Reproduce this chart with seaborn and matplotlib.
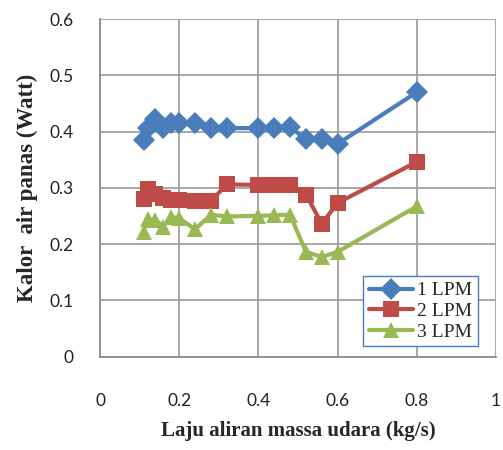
import matplotlib
matplotlib.use("Agg")
import matplotlib.pyplot as plt
import seaborn as sns
import pandas as pd

x_vals = [0.11, 0.12, 0.14, 0.16, 0.18, 0.20, 0.24, 0.28, 0.32, 0.40, 0.44, 0.48, 0.52, 0.56, 0.60, 0.80]
lpm1 = [0.385, 0.407, 0.423, 0.407, 0.416, 0.415, 0.416, 0.406, 0.406, 0.406, 0.407, 0.408, 0.386, 0.386, 0.378, 0.470]
lpm2 = [0.280, 0.297, 0.289, 0.281, 0.279, 0.278, 0.277, 0.276, 0.306, 0.305, 0.305, 0.305, 0.288, 0.236, 0.273, 0.346]
lpm3 = [0.222, 0.244, 0.243, 0.231, 0.248, 0.246, 0.226, 0.252, 0.249, 0.250, 0.251, 0.252, 0.186, 0.177, 0.186, 0.267]
series_names = ["1 LPM", "2 LPM", "3 LPM"]
x_ticks = [0, 0.2, 0.4, 0.6, 0.8, 1]
x_tick_labels = ["0", "0.2", "0.4", "0.6", "0.8", "1"]
y_ticks = [0, 0.1, 0.2, 0.3, 0.4, 0.5, 0.6]
y_tick_labels = ["0", "0.1", "0.2", "0.3", "0.4", "0.5", "0.6"]

df = pd.DataFrame({
    "x": x_vals * 3,
    "y": lpm1 + lpm2 + lpm3,
    "series": [series_names[0]] * len(x_vals) + [series_names[1]] * len(x_vals) + [series_names[2]] * len(x_vals),
})

sns.set_style("white")
fig = plt.figure(figsize=(5.03, 4.5), dpi=100)
ax = fig.add_axes([100 / 503, 1 - 356.5 / 450, 396 / 503, 337.5 / 450])

palette = {"1 LPM": "#4A7EBB", "2 LPM": "#BE4B48", "3 LPM": "#98B954"}
markers = {"1 LPM": "D", "2 LPM": "s", "3 LPM": "^"}

sns.lineplot(data=df, x="x", y="y", hue="series", style="series", palette=palette,
             markers=markers, dashes=False, sort=False, estimator=None,
             linewidth=3, markersize=11, markeredgewidth=0, ax=ax, legend=True)

ax.set_xlim(0, 1)
ax.set_ylim(0, 0.6)
ax.set_xticks(x_ticks)
ax.set_xticklabels(x_tick_labels)
ax.set_yticks(y_ticks)
ax.set_yticklabels(y_tick_labels)
ax.grid(True, color="#a0a0a0", linewidth=1.3)
ax.set_axisbelow(True)
for s in ["top", "right"]:
    ax.spines[s].set_visible(False)
for s in ["left", "bottom"]:
    ax.spines[s].set_color("#8c8c8c")
    ax.spines[s].set_linewidth(1.3)

ax.tick_params(axis="both", which="both", direction="out", length=7, width=1.3, color="#8c8c8c",
               labelsize=12.5, labelcolor="#222222")
ax.tick_params(axis="x", pad=19)
ax.tick_params(axis="y", pad=12)
for lab in ax.get_xticklabels() + ax.get_yticklabels():
    lab.set_fontfamily("Lato")

ax.set_xlabel("Laju aliran massa udara (kg/s)", fontfamily="Liberation Serif", fontweight="bold",
              fontsize=15, labelpad=9)
ax.set_ylabel("Kalor  air panas (Watt)", fontfamily="Liberation Serif", fontweight="bold",
              fontsize=16.5, labelpad=8)

leg = ax.legend(loc="lower right", bbox_to_anchor=(0.955, 0.03), frameon=True, fancybox=False,
                prop={"family": "Liberation Serif", "size": 14}, handlelength=2.3,
                borderpad=0.3, labelspacing=0.15, handletextpad=0.2, borderaxespad=0)
leg.get_frame().set_edgecolor("#4A7EBB")
leg.get_frame().set_linewidth(1.0)
leg.get_frame().set_alpha(1)

fig.savefig("out.png", dpi=100)
